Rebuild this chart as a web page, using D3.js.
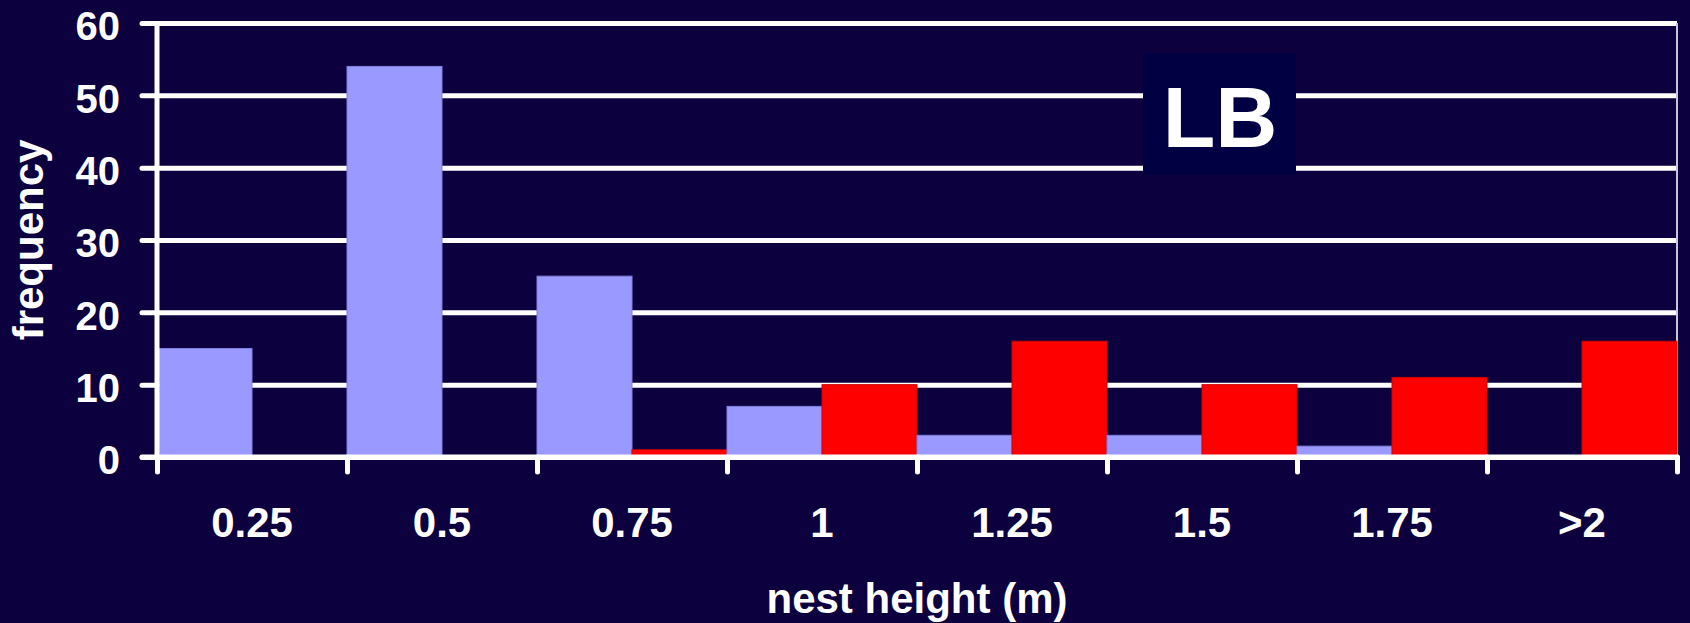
<!DOCTYPE html>
<html>
<head>
<meta charset="utf-8">
<script src="https://cdn.jsdelivr.net/npm/d3@7"></script>
<style>
  html, body { margin: 0; padding: 0; background: #0c003f; }
  svg { display: block; }
  text { font-family: "Liberation Sans", Arial, sans-serif; font-weight: bold; fill: #ffffff; }
</style>
</head>
<body>
<svg id="chart" width="1690" height="623"></svg>
<script>
// Nest height classes (m)
const categories = ["0.25", "0.5", "0.75", "1", "1.25", "1.5", "1.75", ">2"];
// Frequencies per height class for the two series
const blueValues = [15, 54, 25, 7, 3, 3, 1.5, 0];
const redValues  = [0, 0, 1, 10, 16, 10, 11, 16];
const yTicks = [0, 10, 20, 30, 40, 50, 60];
const seriesKeys = ["blue", "red"];
const seriesColors = { blue: "#9999ff", red: "#ff0000" };
const seriesEdges  = { blue: "#8080e0", red: "#d00000" };

const W = 1690, H = 623;
const plotLeft = 157, plotRight = 1677, plotTop = 23, plotBottom = 457;

const svg = d3.select("#chart");
svg.append("rect").attr("width", W).attr("height", H).attr("fill", "#0c003f");

const x = d3.scaleBand().domain(categories).range([plotLeft, plotRight]).padding(0);
const xs = d3.scaleBand().domain(seriesKeys).range([0, x.bandwidth()]).padding(0);
const y = d3.scaleLinear().domain([0, 60]).range([plotBottom, plotTop]);

// Horizontal gridlines
const grid = svg.append("g")
  .attr("transform", `translate(${plotLeft},0)`)
  .call(d3.axisLeft(y).tickValues(yTicks).tickSize(-(plotRight - plotLeft)).tickFormat(""));
grid.select(".domain").remove();
grid.selectAll("line").attr("stroke", "#ffffff").attr("stroke-width", 5);

// Thin right border of the plot area
svg.append("line")
  .attr("x1", plotRight).attr("x2", plotRight)
  .attr("y1", y(60)).attr("y2", y(0))
  .attr("stroke", "#c8c4dc").attr("stroke-width", 2);

// Bars
const rows = categories.map((c, i) => ({ cat: c, blue: blueValues[i], red: redValues[i] }));
const groups = svg.append("g").selectAll("g")
  .data(rows).join("g")
  .attr("transform", d => `translate(${x(d.cat)},0)`);
groups.selectAll("rect")
  .data(d => seriesKeys.map(k => ({ key: k, value: d[k] })).filter(e => e.value > 0))
  .join("rect")
  .attr("x", d => xs(d.key))
  .attr("width", xs.bandwidth())
  .attr("y", d => y(d.value))
  .attr("height", d => y(0) - y(d.value))
  .attr("fill", d => seriesColors[d.key])
  .attr("stroke", d => seriesEdges[d.key])
  .attr("stroke-width", 1);

// Y axis with ticks and labels
const yAxis = svg.append("g")
  .attr("transform", `translate(${plotLeft},0)`)
  .call(d3.axisLeft(y).tickValues(yTicks).tickSize(15).tickPadding(22));
yAxis.select(".domain").remove();
yAxis.append("line")
  .attr("x1", 0).attr("x2", 0).attr("y1", y(60)).attr("y2", y(0))
  .attr("stroke", "#ffffff").attr("stroke-width", 5);
yAxis.selectAll(".tick line").attr("stroke", "#ffffff").attr("stroke-width", 5).attr("stroke-linecap", "round");
yAxis.selectAll(".tick text")
  .attr("font-size", 40).attr("dy", "0.42em")
  .style("font-family", "'Liberation Sans', Arial, sans-serif").style("font-weight", "bold").attr("fill", "#ffffff");

// X axis: tick marks at class boundaries
const xb = d3.scaleLinear().domain([0, categories.length]).range([plotLeft, plotRight]);
const xAxis = svg.append("g")
  .attr("transform", `translate(0,${plotBottom})`)
  .call(d3.axisBottom(xb).tickValues(d3.range(categories.length + 1)).tickSize(15).tickFormat(""));
xAxis.select(".domain").remove();
xAxis.append("line")
  .attr("x1", plotLeft - 15).attr("x2", plotRight).attr("y1", 0).attr("y2", 0)
  .attr("stroke", "#ffffff").attr("stroke-width", 5).attr("stroke-linecap", "round");
xAxis.selectAll(".tick line").attr("stroke", "#ffffff").attr("stroke-width", 5).attr("stroke-linecap", "round");

// X labels centred on each class
const xLabels = svg.append("g")
  .attr("transform", `translate(0,${plotBottom})`)
  .call(d3.axisBottom(x).tickSize(0).tickPadding(0));
xLabels.select(".domain").remove();
xLabels.selectAll(".tick text")
  .attr("y", 80).attr("dy", 0)
  .attr("font-size", 42)
  .style("font-family", "'Liberation Sans', Arial, sans-serif").style("font-weight", "bold").attr("fill", "#ffffff");

// Axis titles
svg.append("text")
  .attr("x", (plotLeft + plotRight) / 2).attr("y", 613)
  .attr("text-anchor", "middle").attr("font-size", 42)
  .text("nest height (m)");
svg.append("text")
  .attr("transform", "translate(43,240) rotate(-90)")
  .attr("text-anchor", "middle").attr("font-size", 42)
  .text("frequency");

// Panel label
svg.append("rect")
  .attr("x", 1143).attr("y", 53).attr("width", 153).attr("height", 122)
  .attr("fill", "#000042");
svg.append("text")
  .attr("x", 1220).attr("y", 147)
  .attr("text-anchor", "middle").attr("font-size", 86)
  .text("LB");
</script>
</body>
</html>
